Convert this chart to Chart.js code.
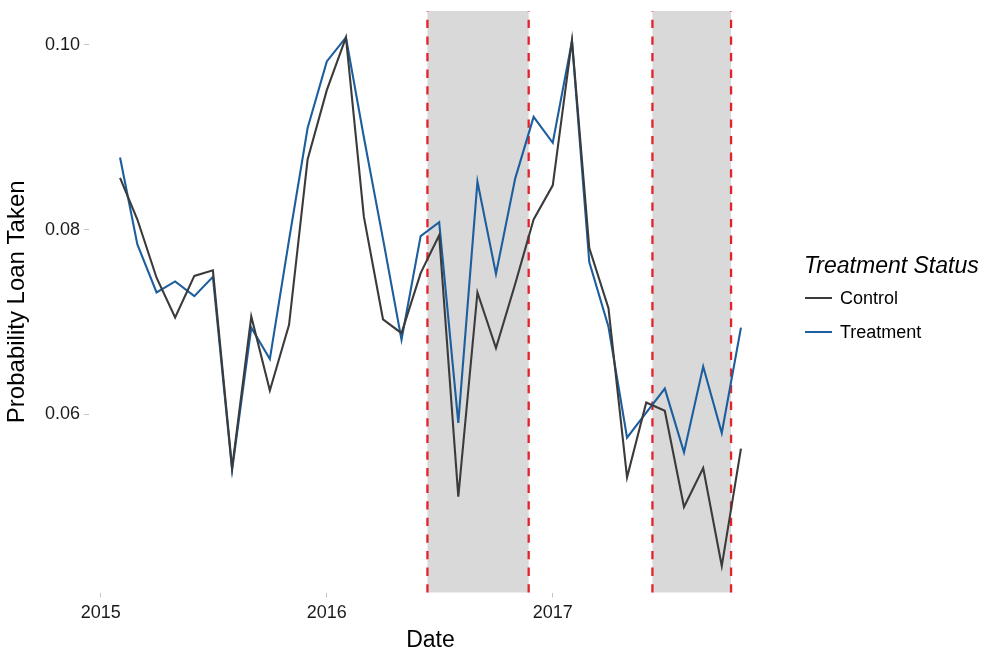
<!DOCTYPE html>
<html>
<head>
<meta charset="utf-8">
<script src="https://cdn.jsdelivr.net/npm/chart.js@4/dist/chart.umd.min.js"></script>
<style>
  html, body { margin: 0; padding: 0; background: #fff; }
  #wrap { position: relative; width: 986px; height: 648px; overflow: hidden; }
  #chartLoan { display: block; }
  #legend { position: absolute; left: 804px; top: 251px; font-family: "Liberation Sans", Arial, sans-serif; color: #000; }
  #legend .title { font-size: 23px; font-style: italic; line-height: 28px; margin-bottom: 2px; }
  #legend .item { display: flex; align-items: center; height: 34px; font-size: 18px; }
  #legend .key { width: 27px; height: 2px; margin-left: 1px; margin-right: 8px; }
</style>
</head>
<body>
<div id="wrap">
  <canvas id="chartLoan" width="986" height="648"></canvas>
  <div id="legend"></div>
</div>
<script>
//データ（月次）
const months = [
  '2015-02','2015-03','2015-04','2015-05','2015-06','2015-07','2015-08','2015-09','2015-10','2015-11','2015-12',
  '2016-01','2016-02','2016-03','2016-04','2016-05','2016-06','2016-07','2016-08','2016-09','2016-10','2016-11','2016-12',
  '2017-01','2017-02','2017-03','2017-04','2017-05','2017-06','2017-07','2017-08','2017-09','2017-10','2017-11'
];
const controlValues = [
  0.0856, 0.0811, 0.0748, 0.0705, 0.0750, 0.0756, 0.0542, 0.0706, 0.0626, 0.0697, 0.0876,
  0.0951, 0.1008, 0.0814, 0.0703, 0.0688, 0.0753, 0.0794, 0.0511, 0.0732, 0.0672, 0.0741, 0.0811,
  0.0848, 0.1005, 0.0780, 0.0715, 0.0532, 0.0613, 0.0604, 0.0500, 0.0542, 0.0436, 0.0563
];
const treatmentValues = [
  0.0878, 0.0784, 0.0732, 0.0744, 0.0728, 0.0749, 0.0540, 0.0694, 0.0660, 0.0789, 0.0910,
  0.0982, 0.1008, 0.0900, 0.0790, 0.0681, 0.0793, 0.0808, 0.0591, 0.0852, 0.0752, 0.0855, 0.0922,
  0.0894, 0.1004, 0.0765, 0.0695, 0.0575, 0.0602, 0.0628, 0.0559, 0.0652, 0.0580, 0.0694
];
const seriesNames = ['Control', 'Treatment'];
const seriesColors = ['#3b3b3b', '#1d5e9f'];
const legendTitle = 'Treatment Status';
const xTickLabels = ['2015', '2016', '2017'];
const yTickValues = [0.06, 0.08, 0.10];
//網掛け期間
const shadeStart = ['2016-06-12', '2017-06-11'];
const shadeEnd = ['2016-11-23', '2017-10-16'];

Chart.defaults.font.family = '"Liberation Sans", Arial, Helvetica, sans-serif';

//日付文字列 -> 年（小数）
function toYear(s){
  const p = s.split('-').map(Number);
  const start = Date.UTC(p[0], 0, 1);
  const end = Date.UTC(p[0] + 1, 0, 1);
  const d = Date.UTC(p[0], p[1] - 1, p[2] || 1);
  return p[0] + (d - start) / (end - start);
}

//範囲を5%広げる（ggplot風）
function expandRange(values){
  const lo = Math.min(...values);
  const hi = Math.max(...values);
  const pad = (hi - lo) * 0.05;
  return [lo - pad, hi + pad];
}

const xs = months.map(toYear);
const [xMin, xMax] = expandRange(xs);
const [yMin, yMax] = expandRange(controlValues.concat(treatmentValues));

//網掛けと縦の破線
const shadePlugin = {
  id: 'shade',
  beforeDatasetsDraw(chart){
    const {ctx, chartArea: a, scales: {x}} = chart;
    ctx.save();
    shadeStart.forEach((s, i) => {
      const x1 = x.getPixelForValue(toYear(s));
      const x2 = x.getPixelForValue(toYear(shadeEnd[i]));
      ctx.fillStyle = '#d9d9d9';
      ctx.fillRect(x1, a.top, x2 - x1, a.bottom - a.top);
      ctx.strokeStyle = '#e3222b';
      ctx.lineWidth = 2.3;
      ctx.setLineDash([8.3, 8.3]);
      [x1, x2].forEach(px => {
        ctx.beginPath();
        ctx.moveTo(px, a.bottom);
        ctx.lineTo(px, a.top);
        ctx.stroke();
      });
    });
    ctx.restore();
  }
};

function makeSeries(values){
  return values.map((v, i) => ({x: xs[i], y: v}));
}

//チャート描画
const ctx = document.getElementById('chartLoan').getContext('2d');
const chart = new Chart(ctx, {
  type: 'line',
  data: {
    datasets: [controlValues, treatmentValues].map((vals, i) => ({
      label: seriesNames[i],
      data: makeSeries(vals),
      borderColor: seriesColors[i],
      backgroundColor: seriesColors[i],
      borderWidth: 2.1,
      pointRadius: 0,
      tension: 0,
      fill: false
    }))
  },
  options: {
    responsive: false,
    animation: false,
    layout: { padding: { left: 0, right: 214, top: 11, bottom: 0 } },
    scales: {
      x: {
        type: 'linear',
        min: xMin,
        max: xMax,
        afterBuildTicks: s => { s.ticks = xTickLabels.map(l => ({value: Number(l)})); },
        afterFit: s => { s.height = 55.5; },
        ticks: { callback: v => String(v), font: { size: 18 }, color: '#1a1a1a', padding: 5, maxRotation: 0, autoSkip: false },
        grid: { drawOnChartArea: false, drawTicks: true, tickLength: 5, tickColor: '#c4c4c4' },
        border: { display: false },
        title: { display: true, text: 'Date', font: { size: 23 }, color: '#000', padding: { top: 0, bottom: -6 } }
      },
      y: {
        min: yMin,
        max: yMax,
        afterBuildTicks: s => { s.ticks = yTickValues.map(v => ({value: v})); },
        afterFit: s => { s.width = 89; },
        // lineHeight を小さくして上端の余白が増えないようにする
        ticks: { callback: v => v.toFixed(2), font: { size: 18, lineHeight: 0.7 }, color: '#1a1a1a', padding: 4 },
        grid: { drawOnChartArea: false, drawTicks: true, tickLength: 5, tickColor: '#c4c4c4' },
        border: { display: false },
        title: { display: true, text: 'Probability Loan Taken', font: { size: 24 }, color: '#000', padding: { top: 3, bottom: 0 } }
      }
    },
    plugins: {
      legend: { display: false },
      tooltip: { enabled: false }
    }
  },
  plugins: [shadePlugin]
});

//凡例（HTML）
const legend = document.getElementById('legend');
const title = document.createElement('div');
title.className = 'title';
title.textContent = legendTitle;
legend.appendChild(title);
chart.data.datasets.forEach(ds => {
  const item = document.createElement('div');
  item.className = 'item';
  const key = document.createElement('span');
  key.className = 'key';
  key.style.background = ds.borderColor;
  const label = document.createElement('span');
  label.textContent = ds.label;
  item.appendChild(key);
  item.appendChild(label);
  legend.appendChild(item);
});
</script>
</body>
</html>
